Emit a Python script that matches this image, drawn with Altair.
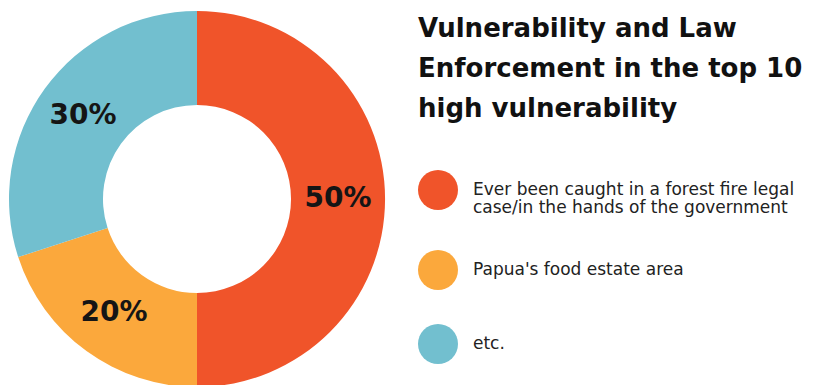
import altair as alt
import pandas as pd

categories = [
    "Ever been caught in a forest fire legal\ncase/in the hands of the government",
    "Papua's food estate area",
    "etc.",
]
values = [50, 20, 30]
colors = ["#F0542A", "#FBA83C", "#72BFCF"]
title_lines = ["Vulnerability and Law", "Enforcement in the top 10", "high vulnerability"]

df = pd.DataFrame({
    "category": categories,
    "value": values,
    "idx": list(range(len(categories))),
    "label": [f"{v}%" for v in values],
})

FONT = "DejaVu Sans"

base = alt.Chart(df).encode(
    theta=alt.Theta("value:Q", stack=True),
    order=alt.Order("idx:Q"),
)

arcs = base.mark_arc(innerRadius=94, outerRadius=188).encode(
    color=alt.Color(
        "category:N",
        sort=categories,
        scale=alt.Scale(domain=categories, range=colors),
        legend=alt.Legend(
            orient="none",
            legendX=415,
            legendY=3,
            title=title_lines,
            titleFont=FONT,
            titleFontSize=26,
            titleFontWeight="bold",
            titleColor="#111111",
            titleLineHeight=40,
            titlePadding=48,
            titleLimit=500,
            labelFont=FONT,
            labelFontSize=17,
            labelColor="#222222",
            labelLimit=500,
            labelOffset=15,
            labelExpr="split(datum.label, '\\n')",
            symbolType="circle",
            symbolSize=1600,
            symbolStrokeWidth=0,
            symbolOpacity=1,
            rowPadding=34,
            padding=0,
        ),
    )
)

texts = base.mark_text(
    radius=141, font=FONT, fontSize=28, fontWeight="bold", color="#151515"
).encode(text="label:N")

chart = (
    alt.layer(arcs, texts)
    .properties(
        width=388,
        height=372,
        padding={"left": 3, "top": 13, "right": 428, "bottom": 0},
        autosize=alt.AutoSizeParams(type="none"),
        background="white",
    )
    .configure(style={"guide-label": {"lineHeight": 18}})
    .configure_view(stroke=None)
)

chart.save("out.html", embed_options={"renderer": "svg", "actions": False})
